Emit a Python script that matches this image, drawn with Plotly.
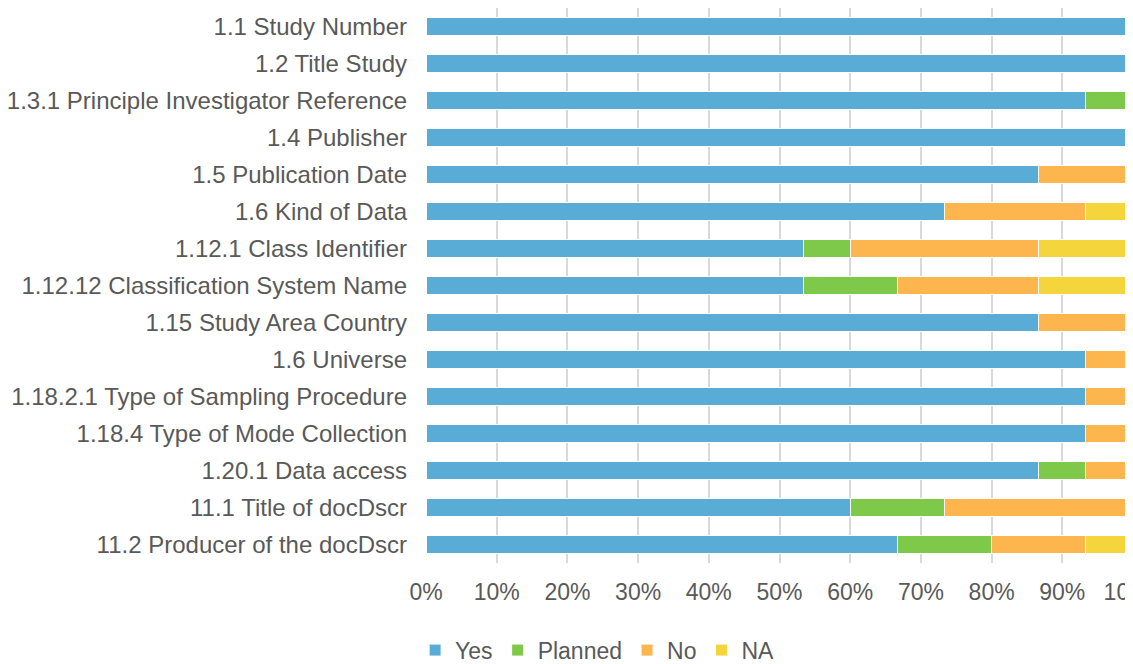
import plotly.graph_objects as go

categories = [
    "1.1 Study Number",
    "1.2 Title Study",
    "1.3.1 Principle Investigator Reference",
    "1.4 Publisher",
    "1.5 Publication Date",
    "1.6 Kind of Data",
    "1.12.1 Class Identifier",
    "1.12.12 Classification System Name",
    "1.15 Study Area Country",
    "1.6 Universe",
    "1.18.2.1 Type of Sampling Procedure",
    "1.18.4 Type of Mode Collection",
    "1.20.1 Data access",
    "11.1 Title of docDscr",
    "11.2 Producer of the docDscr",
]
# counts out of 15 responses
yes_counts = [15, 15, 14, 15, 13, 11, 8, 8, 13, 14, 14, 14, 13, 9, 10]
planned_counts = [0, 0, 1, 0, 0, 0, 1, 2, 0, 0, 0, 0, 1, 2, 2]
no_counts = [0, 0, 0, 0, 2, 3, 4, 3, 2, 1, 1, 1, 1, 4, 2]
na_counts = [0, 0, 0, 0, 0, 1, 2, 2, 0, 0, 0, 0, 0, 0, 1]

series = [
    ("Yes", yes_counts, "#59acd5"),
    ("Planned", planned_counts, "#7ec94a"),
    ("No", no_counts, "#fdb64e"),
    ("NA", na_counts, "#f4d63c"),
]

totals = [a + b + c + d for a, b, c, d in zip(yes_counts, planned_counts, no_counts, na_counts)]

fig = go.Figure()
for name, vals, color in series:
    fig.add_trace(go.Bar(
        name=name,
        y=categories,
        x=[v / t for v, t in zip(vals, totals)],
        orientation="h",
        marker=dict(color=color, line=dict(color="white", width=1)),
    ))

font_fam = "Liberation Sans, Arial, sans-serif"
fs = 24
# the page body adds an 8px margin, so the figure sits 8px in from the corner
fig.update_layout(
    barmode="stack",
    width=1125,
    height=656,
    margin=dict(l=418, r=0, t=0, b=101, autoexpand=False),
    plot_bgcolor="white",
    paper_bgcolor="white",
    bargap=0.5,
    font=dict(family=font_fam, size=fs, color="#595959"),
    legend=dict(
        orientation="h",
        x=0.242, xanchor="center",
        y=-0.157, yanchor="middle",
        font=dict(size=23, color="#595959"),
        itemwidth=30,
        traceorder="normal",
    ),
    xaxis=dict(
        range=[0, 1],
        tickvals=[i / 10 for i in range(11)],
        tickformat=".0%",
        showgrid=True,
        gridcolor="#d9d9d9",
        gridwidth=2,
        zeroline=False,
        showline=False,
        ticks="",
        automargin=False,
        ticklabeloverflow="allow",
        ticklabelstandoff=13,
        tickfont=dict(size=23, color="#595959"),
    ),
    yaxis=dict(
        categoryorder="array",
        categoryarray=categories,
        autorange="reversed",
        showgrid=False,
        ticks="",
        automargin=False,
        ticklabelstandoff=18,
        tickfont=dict(size=fs, color="#595959"),
    ),
)

fig.write_html("out.html", config={"displayModeBar": False})
